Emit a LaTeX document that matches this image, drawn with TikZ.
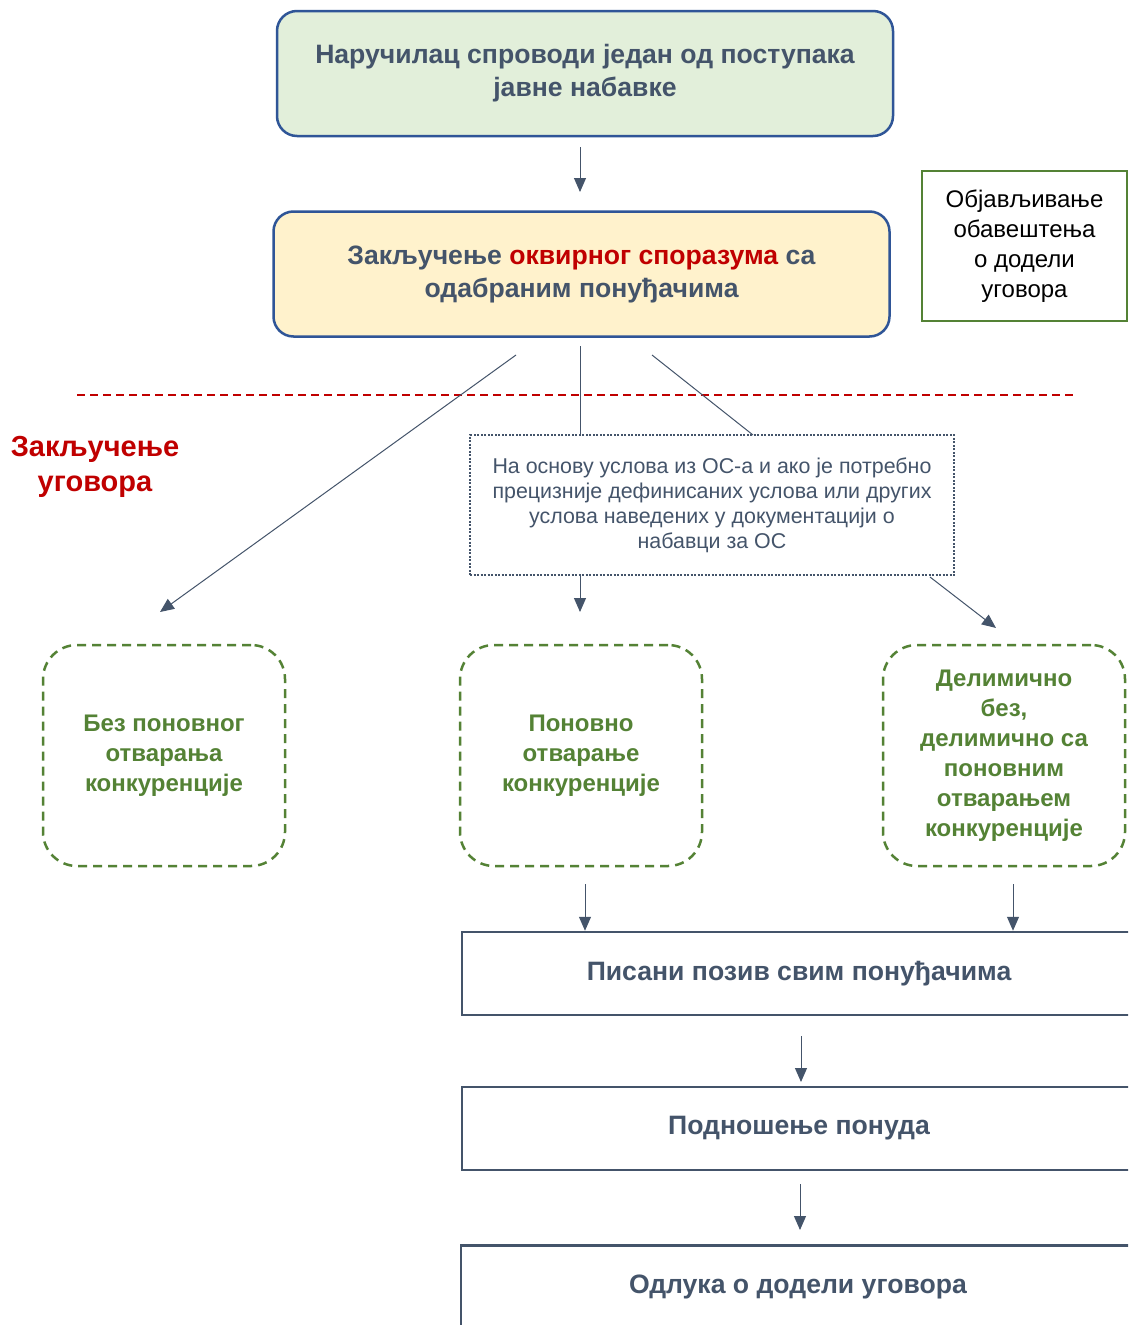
\documentclass[tikz,border=0pt]{standalone}
\usepackage{fontspec}
\setmainfont{Liberation Sans}
\usetikzlibrary{arrows.meta}
\definecolor{slate}{HTML}{44546A}
\definecolor{boxblue}{HTML}{2F5597}
\definecolor{paleGreen}{HTML}{E2EFDA}
\definecolor{paleYellow}{HTML}{FFF2CC}
\definecolor{darkRed}{HTML}{C00000}
\definecolor{okGreen}{HTML}{548235}
\tikzset{
  phase/.style={draw=boxblue, line width=2.5pt, rounded corners=20pt, minimum width=616pt,
    minimum height=125pt, align=center, text=slate, font=\bfseries\fontsize{26.6}{33}\selectfont},
  option/.style={draw=okGreen, line width=2.5pt, dash pattern=on 9pt off 6pt, rounded corners=34pt,
    minimum width=242pt, minimum height=221pt, align=center, text=okGreen,
    font=\bfseries\fontsize{24}{30}\selectfont},
  stepbox/.style={draw=slate, line width=2.5pt, minimum width=674pt, minimum height=83pt,
    text=slate, font=\bfseries\fontsize{26.6}{30}\selectfont},
  link/.style={draw=slate, line width=1pt},
  flow/.style={link, -{Triangle[length=14pt,width=12pt]}},
}
\begin{document}
\begin{tikzpicture}[x=1pt,y=-1pt]
  \clip (0,0) rectangle (1128,1325);
  \fill[white] (0,0) rectangle (1128,1325);

  \node[phase, fill=paleGreen] (proc) at (585,73.5) {Наручилац спроводи један од поступака\\јавне набавке};
  \node[phase, fill=paleYellow] (agree) at (581.5,274) {Закључење \textcolor{darkRed}{оквирног споразума} са\\одабраним понуђачима};
  \node[draw=okGreen, line width=2.5pt, minimum width=205pt, minimum height=150pt, align=center,
    font=\fontsize{24}{30}\selectfont] (notice) at (1024.5,246) {Објављивање\\обавештења\\о додели\\уговора};

  \node[align=center, text=darkRed, font=\bfseries\fontsize{29}{35}\selectfont] (stage) at (95,467) {Закључење\\уговора};
  \coordinate (lineL) at (77,395);
  \coordinate (lineR) at (1077,395);
  \draw[darkRed, line width=1.5pt, dash pattern=on 8pt off 5pt] (lineL) -- (lineR);

  \node[draw=slate, line width=2pt, dash pattern=on 2pt off 1.5pt, minimum width=484pt, minimum height=140pt,
    align=center, text=slate, font=\fontsize{21.4}{25}\selectfont] (info) at (712,505)
    {На основу услова из ОС-а и ако је потребно\\прецизније дефинисаних услова или других\\услова наведених у документацији о\\набавци за ОС};

  \node[option] (noreopen) at (164,755.5) {Без поновног\\отварања\\конкуренције};
  \node[option] (reopen) at (581,755.5) {Поновно\\отварање\\конкуренције};
  \node[option] (partial) at (1004,755.5) {Делимично\\без,\\делимично са\\поновним\\отварањем\\конкуренције};

  \node[stepbox] (invite) at (799,973.5) {Писани позив свим понуђачима};
  \node[stepbox] (submit) at (799,1128.5) {Подношење понуда};
  \node[stepbox] (decide) at (798,1287) {Одлука о додели уговора};

  % connectors
  \coordinate (p1) at (580,147);
  \coordinate (p2) at (580,192);
  \draw[flow] (p1) -- (p2);
  \coordinate (s1) at (516,355);
  \coordinate (t1) at (160,612);
  \draw[flow] (s1) -- (t1);
  \coordinate (s2) at (580,346);
  \draw[link] (s2) -- (s2 |- info.north);
  \coordinate (s3) at (652,355);
  \coordinate (t3) at (753,435);
  \draw[link] (s3) -- (t3);
  \coordinate (t2) at (580,612);
  \draw[flow] (s2 |- info.south) -- (t2);
  \coordinate (s4) at (930,577);
  \coordinate (t4) at (996,628);
  \draw[flow] (s4) -- (t4);
  \coordinate (r1) at (585,884);
  \draw[flow] (r1) -- (r1 |- invite.north);
  \coordinate (r2) at (1013,884);
  \draw[flow] (r2) -- (r2 |- invite.north);
  \coordinate (q1) at (801,1036);
  \coordinate (q2) at (801,1082);
  \draw[flow] (q1) -- (q2);
  \coordinate (q3) at (800,1184);
  \coordinate (q4) at (800,1230);
  \draw[flow] (q3) -- (q4);
\end{tikzpicture}
\end{document}
